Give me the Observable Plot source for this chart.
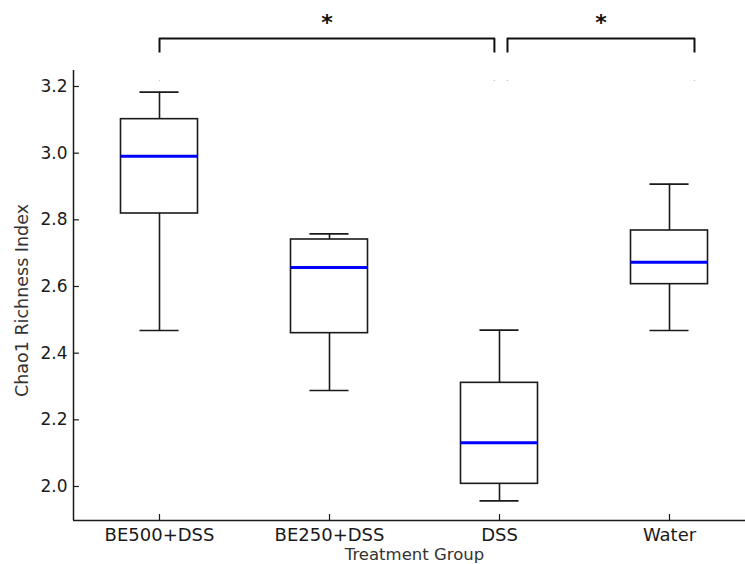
<!DOCTYPE html>
<html><head><meta charset="utf-8">
<script src="https://cdn.jsdelivr.net/npm/d3@7"></script>
<script src="https://cdn.jsdelivr.net/npm/@observablehq/plot@0.6"></script>
<style>body{margin:0;background:#fff}#chart svg{display:block}</style>
</head><body><div id="chart"></div>
<script>
// ---- data ----
const groups = ["BE500+DSS", "BE250+DSS", "DSS", "Water"];
const whiskerLow  = [2.468, 2.288, 1.957, 2.468];
const q1          = [2.819, 2.460, 2.008, 2.607];
const median      = [2.991, 2.657, 2.131, 2.673];
const q3          = [3.102, 2.741, 2.311, 2.768];
const whiskerHigh = [3.183, 2.758, 2.469, 2.907];
const yTicks = [2.0, 2.2, 2.4, 2.6, 2.8, 3.0, 3.2];
const xTitle = "Treatment Group";
const yTitle = "Chao1 Richness Index";
// significance brackets (positions in group-index units, values in y units)
const bracketStart = [1.0, 3.047];
const bracketEnd   = [2.97, 4.147];
const bracketLabels = ["*", "*"];
const bracketTop = 3.344, bracketLeg = 3.302, starLevel = 3.392, dotLevel = 3.218;

// ---- scales / tables ----
const xMin = 0.5, xMax = 4.5, yMin = 1.898, yMax = 3.248;
const boxes = groups.map((g, i) => ({
  pos: i + 1, group: g, lo: whiskerLow[i], q1: q1[i], med: median[i], q3: q3[i], hi: whiskerHigh[i]
}));
const boxHalf = 0.2265, capHalf = 0.115;          // widths in group units
const yTickLen = 0.018, xTickLen = 0.035;          // inward tick lengths (≈6px)
const bracketPts = [];
const bracketMeta = [];
bracketStart.forEach((s, i) => {
  const e = bracketEnd[i];
  bracketPts.push({b: i, x: s, y: bracketLeg}, {b: i, x: s, y: bracketTop},
                  {b: i, x: e, y: bracketTop}, {b: i, x: e, y: bracketLeg});
  bracketMeta.push({mid: (s + e) / 2, label: bracketLabels[i], s, e});
});
const dotPts = bracketMeta.flatMap(d => [{x: d.s}, {x: d.e}]);
const xPositions = boxes.map(d => d.pos);

const ink = "#1a1a1a";
const chart = Plot.plot({
  width: 745, height: 564,
  marginLeft: 73, marginRight: 0, marginTop: 70, marginBottom: 44,
  style: {fontFamily: "'DejaVu Sans', sans-serif", color: ink, background: "#fff"},
  x: {type: "linear", domain: [xMin, xMax], range: [74, 754]},
  y: {domain: [yMin, yMax]},
  marks: [
    Plot.axisY(yTicks, {tickSize: 0, tickPadding: 6, tickFormat: d3.format(".1f"), fontSize: 17, label: null}),
    Plot.axisX(xPositions, {tickSize: 0, tickPadding: 8, tickFormat: i => groups[i - 1], fontSize: 18, label: null}),
    // axis lines and inward ticks
    Plot.ruleX([xMin], {y1: yMin, y2: yMax, dx: -1, stroke: ink, strokeWidth: 1.5}),
    Plot.ruleY([yMin], {stroke: ink, strokeWidth: 1.5}),
    Plot.ruleY(yTicks, {y: d => d, x1: xMin, x2: xMin + xTickLen, dx: -1, stroke: ink, strokeWidth: 1.2}),
    Plot.ruleX(xPositions, {x: d => d, y1: yMin, y2: yMin + yTickLen, stroke: ink, strokeWidth: 1.2}),
    Plot.text([xTitle], {frameAnchor: "bottom", dx: 5, dy: 39, lineAnchor: "bottom", fontSize: 16.5, fill: "#333"}),
    Plot.text([yTitle], {frameAnchor: "left", rotate: -90, textAnchor: "middle", dx: -51, dy: 5, fontSize: 17.5, fill: "#333"}),
    // whiskers
    Plot.ruleX(boxes, {x: "pos", y1: "q3", y2: "hi", stroke: ink, strokeWidth: 1.6}),
    Plot.ruleX(boxes, {x: "pos", y1: "lo", y2: "q1", stroke: ink, strokeWidth: 1.6}),
    Plot.ruleY(boxes, {y: "hi", x1: d => d.pos - capHalf, x2: d => d.pos + capHalf, stroke: ink, strokeWidth: 1.6}),
    Plot.ruleY(boxes, {y: "lo", x1: d => d.pos - capHalf, x2: d => d.pos + capHalf, stroke: ink, strokeWidth: 1.6}),
    // boxes
    Plot.rect(boxes, {x1: d => d.pos - boxHalf, x2: d => d.pos + boxHalf, y1: "q1", y2: "q3", fill: "white", stroke: ink, strokeWidth: 1.6}),
    Plot.ruleY(boxes, {y: "med", x1: d => d.pos - boxHalf, x2: d => d.pos + boxHalf, stroke: "#0000ff", strokeWidth: 3}),
    // significance brackets
    Plot.line(bracketPts, {x: "x", y: "y", z: "b", stroke: "#111", strokeWidth: 2, strokeLinejoin: "round", strokeLinecap: "butt"}),
    Plot.text(bracketMeta, {x: "mid", y: starLevel, text: "label", fontSize: 22, fontWeight: "bold", fill: "#111"}),
    Plot.dot(dotPts, {x: "x", y: dotLevel, r: 0.8, fill: "#c8c8c8", stroke: null})
  ]
});
document.getElementById("chart").append(chart);
</script>
</body></html>
